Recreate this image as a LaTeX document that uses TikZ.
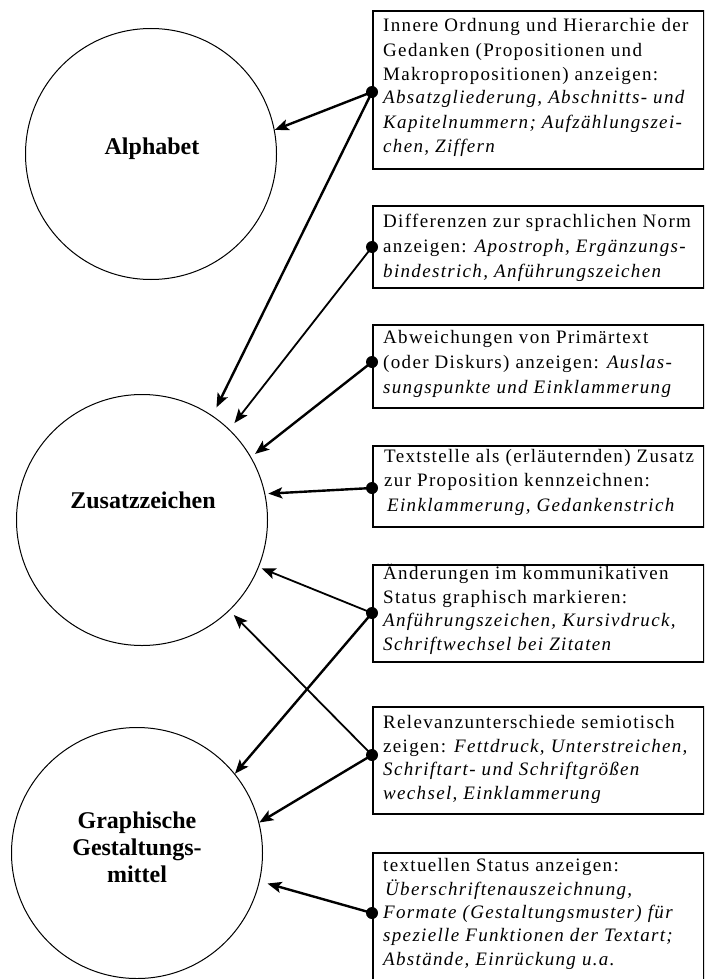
\documentclass[tikz,border=0pt]{standalone}
\usepackage{fontspec}
\setmainfont{Liberation Serif}
\newfontfamily\boxfont[LetterSpace=7]{Liberation Serif}
\usetikzlibrary{arrows.meta}
\begin{document}
\begin{tikzpicture}[x=1pt,y=-1pt,
  circ/.style={circle,draw,line width=1pt,minimum size=251pt,inner sep=0pt},
  ctext/.style={font=\fontsize{24}{27}\selectfont\bfseries,anchor=base,align=center,inner sep=0pt},
  infobox/.style={draw,line width=1.8pt,anchor=north west,inner sep=0pt,minimum width=331pt},
  btext/.style={font=\boxfont\fontsize{19}{24}\selectfont,anchor=base west,align=left,inner sep=0pt},
  dot/.style={circle,fill,inner sep=0pt,minimum size=12pt},
  conn/.style={line width=2.4pt,-{Stealth[length=14pt,width=11pt,inset=3pt]}},
  thinconn/.style={conn,line width=1.8pt}]
\clip (0,0) rectangle (704,979);
\fill[white] (0,0) rectangle (704,979);
% circles
\node[circ] (alpha) at (151,154) {};
\node[circ] (zus) at (142,520) {};
\node[circ] (graph) at (137,853) {};
\node[ctext] (alphat) at (152,154) {Alphabet};
\node[ctext] (zust) at (143,508) {Zusatzzeichen};
\node[ctext] (grapht) at (137,882) {Graphische\\Gestaltungs-\\mittel};
% boxes
\node[infobox,minimum height=158pt] (b1) at (372,10) {};
\node[infobox,minimum height=82pt] (b2) at (372,205) {};
\node[infobox,minimum height=83pt] (b3) at (372,324) {};
\node[infobox,minimum height=81pt] (b4) at (372,445) {};
\node[infobox,minimum height=97pt] (b5) at (372,564) {};
\node[infobox,minimum height=107pt] (b6) at (372,706) {};
\node[infobox,minimum height=160pt] (b7) at (372,852) {};
% box texts (anchored at the baseline of the last line)
\node[btext] (t1) at (383,152) {Innere Ordnung und Hierarchie der\\Gedanken (Propositionen und\\Makropropositionen) anzeigen:\\\textit{Absatzgliederung, Abschnitts- und}\\\textit{Kapitelnummern; Aufzählungszei-}\\\textit{chen, Ziffern}};
\node[btext,font=\boxfont\fontsize{19}{25}\selectfont] (t2) at (383,277) {Differenzen zur sprachlichen Norm\\anzeigen: \textit{Apostroph, Ergänzungs-}\\\textit{bindestrich, Anführungszeichen}};
\node[btext,font=\boxfont\fontsize{19}{25}\selectfont] (t3) at (383,393) {Abweichungen von Primärtext\\(oder Diskurs) anzeigen: \textit{Auslas-}\\\textit{sungspunkte und Einklammerung}};
\node[btext,font=\boxfont\fontsize{19}{24.5}\selectfont] (t4) at (384,511) {Textstelle als (erläuternden) Zusatz\\zur Proposition kennzeichnen:\\\hspace{3pt}\textit{Einklammerung, Gedankenstrich}};
\node[btext,font=\boxfont\fontsize{19}{23.4}\selectfont] (t5) at (383,650) {Änderungen im kommunikativen\\Status graphisch markieren:\\\textit{Anführungszeichen, Kursivdruck,}\\\textit{Schriftwechsel bei Zitaten}};
\node[btext,font=\boxfont\fontsize{19}{23.4}\selectfont] (t6) at (383,799) {Relevanzunterschiede semiotisch\\zeigen: \textit{Fettdruck, Unterstreichen,}\\\textit{Schriftart- und Schriftgrößen}\\\textit{wechsel, Einklammerung}};
\node[btext,font=\boxfont\fontsize{19}{23.3}\selectfont] (t7) at (383,965) {textuellen Status anzeigen:\\\hspace{2pt}\textit{Überschriftenauszeichnung,}\\\textit{Formate (Gestaltungsmuster) für}\\\textit{spezielle Funktionen der Textart;}\\\textit{Abstände, Einrückung u.a.}};
% dots
\node[dot] (d1) at (372,92) {};
\node[dot] (d2) at (372,247) {};
\node[dot] (d3) at (372,362) {};
\node[dot] (d4) at (372,488) {};
\node[dot] (d5) at (372,613) {};
\node[dot] (d6) at (372,755) {};
\node[dot] (d7) at (372,913) {};
% connectors
\draw[conn] (d1.center) -- (alpha.11);
\draw[conn,shorten >=9pt] (d1.center) -- (zus.56);
\draw[thinconn,shorten >=8pt] (d2.center) -- (zus.46);
\draw[conn,shorten >=5pt] (d3.center) -- (zus.30);
\draw[conn,shorten >=3pt] (d4.center) -- (zus.12);
\draw[thinconn,shorten >=3pt] (d5.center) -- (zus.-22);
\draw[conn] (d5.center) -- (graph.39);
\draw[thinconn,shorten >=6pt] (d6.center) -- (zus.-46);
\draw[conn] (d6.center) -- (graph.14);
\draw[conn,shorten >=8pt] (d7.center) -- (graph.-13);
\end{tikzpicture}
\end{document}
